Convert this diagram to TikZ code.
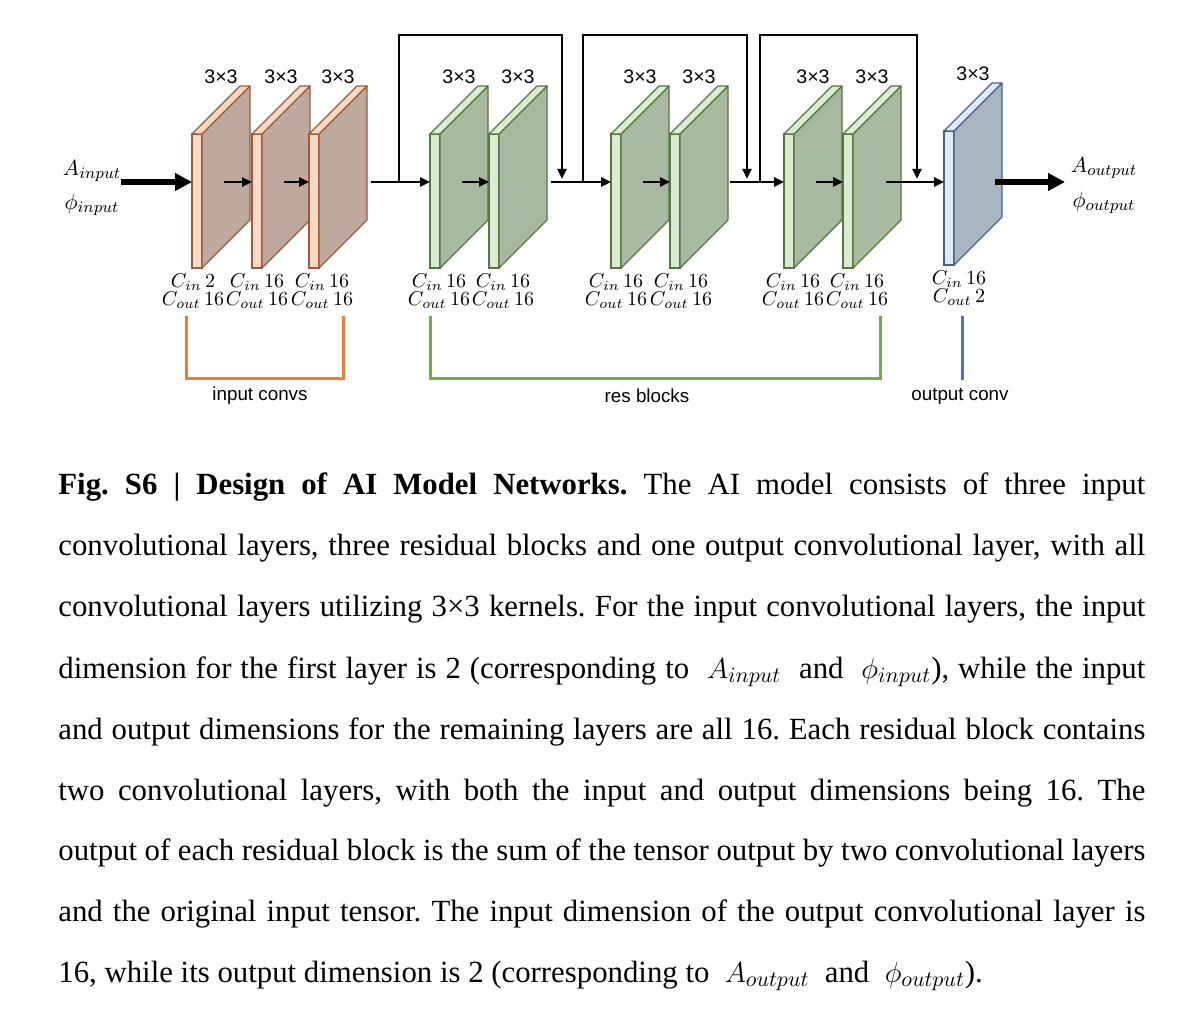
\documentclass[tikz,border=0pt]{standalone}
\usepackage{amsmath}
\usepackage{fontspec}
\setmainfont{Liberation Serif}
\setsansfont{Liberation Sans}
\usepackage{tikz}
\usetikzlibrary{calc,arrows.meta,positioning}
\definecolor{peachface}{HTML}{F9D8C3}
\definecolor{peachside}{HTML}{BFA89E}
\definecolor{peachedge}{HTML}{9E5B3B}
\definecolor{sageface}{HTML}{DCEBD3}
\definecolor{sageside}{HTML}{A9B8A1}
\definecolor{sageedge}{HTML}{527A3E}
\definecolor{skyface}{HTML}{DDEBF7}
\definecolor{skyside}{HTML}{A9B5C1}
\definecolor{skyedge}{HTML}{41618F}
\definecolor{brkorange}{HTML}{ED7D31}
\definecolor{brkgreen}{HTML}{70AD47}
\definecolor{brkblue}{HTML}{4472C4}
\frenchspacing

\begin{document}
\begin{tikzpicture}[x=0.5pt, y=-0.5pt,
    slab/.style={draw=#1edge, fill=#1face, line width=0.6pt, minimum width=5pt,
      minimum height=67pt, inner sep=0pt, outer sep=0pt, anchor=north west},
    flank/.style={draw=#1edge, fill=#1side, line width=0.6pt, line join=round},
    lid/.style={draw=#1edge, fill=#1face, line width=0.6pt, line join=round},
    flow/.style={line width=1.35pt, -{Triangle[length=5pt,width=4.6pt]}},
    bigflow/.style={line width=3pt, -{Triangle[length=8.5pt,width=8.5pt]}},
    skip/.style={line width=1.4pt, -{Triangle[length=5pt,width=4.4pt]}},
    kernel/.style={font=\sffamily\fontsize{9.8}{11}\selectfont, inner sep=0pt},
    dims/.style={font=\fontsize{10}{12}\selectfont, anchor=base, inner sep=0pt},
    sig/.style={font=\fontsize{11}{13}\selectfont, inner sep=0pt},
    grp/.style={font=\sffamily\fontsize{9.4}{11}\selectfont, inner sep=0pt},
    brk/.style={draw=#1, line width=1.5pt},
    capline/.style={font=\fontsize{15.4}{18}\selectfont, anchor=base west, inner sep=0pt}]
  \useasboundingbox (0,0) rectangle (1200,1026);
  \coordinate (lvl) at (0,182);
  \coordinate (top) at (0,35);

  % conv layers
  \foreach \nm/\xx/\yy/\kd/\ci/\co/\dx in {in1/192/134/peach/2/16/-4, in2/252/134/peach/16/16/0,
      in3/309/134/peach/16/16/8, g1/430/134/sage/16/16/4, g2/489/134/sage/16/16/9,
      g3/611/134/sage/16/16/0, g4/670/134/sage/16/16/6, g5/784/134/sage/16/16/4,
      g6/843/134/sage/16/16/9, out/944/131/sky/16/2/10} {
    \node[slab=\kd] (\nm) at (\xx,\yy) {};
    \draw[flank=\kd] (\nm.north east) -- ++(48,-48) -- ++(0,134) -- (\nm.south east) -- cycle;
    \draw[lid=\kd] (\nm.north west) -- ++(48,-48) -- ++(10,0) -- (\nm.north east) -- cycle;
    \node[kernel] (\nm-k) at ($(\nm.north)+(24,-57)$) {3×3};
    \node[dims] (\nm-ci) at ($(\nm.south)+(\dx,20)$) {$C_{in}\,\ci$};
    \node[dims] (\nm-co) at ($(\nm.south)+(\dx,38)$) {$C_{out}\,\co$};
    \coordinate (\nm-m) at ($(\nm.east |- lvl)+(22,0)$);
  }

  % signals in and out
  \node[sig] (ain) at (92,171) {$A_{input}$};
  \node[sig] (phin) at (92,205) {$\phi_{input}$};
  \node[sig] (aout) at (1104,168) {$A_{output}$};
  \node[sig] (phout) at (1104,203) {$\phi_{output}$};
  \coordinate (src) at (121,182);
  \coordinate (tail) at (995,182);
  \coordinate (snk) at (1065,182);

  % main path
  \coordinate (b0) at (371,182);
  \coordinate (b1) at (551,182);
  \coordinate (b2) at (730,182);
  \coordinate (b3) at (886,182);
  \draw[bigflow] (src) -- (in1.west |- lvl);
  \draw[flow] (in1-m) -- (in2.west |- lvl);
  \draw[flow] (in2-m) -- (in3.west |- lvl);
  \draw[flow] (b0) -- (g1.west |- lvl);
  \draw[flow] (g1-m) -- (g2.west |- lvl);
  \draw[flow] (b1) -- (g3.west |- lvl);
  \draw[flow] (g3-m) -- (g4.west |- lvl);
  \draw[flow] (b2) -- (g5.west |- lvl);
  \draw[flow] (g5-m) -- (g6.west |- lvl);
  \draw[flow] (b3) -- (out.west |- lvl);
  \draw[bigflow] (tail) -- (snk);

  % skip connections
  \coordinate (s1) at (399,182);
  \coordinate (e1) at (562,179);
  \coordinate (s2) at (583,182);
  \coordinate (e2) at (747,179);
  \coordinate (s3) at (760,182);
  \coordinate (e3) at (917,179);
  \draw[skip] (s1) -- (s1 |- top) -- (e1 |- top) -- (e1);
  \draw[skip] (s2) -- (s2 |- top) -- (e2 |- top) -- (e2);
  \draw[skip] (s3) -- (s3 |- top) -- (e3 |- top) -- (e3);

  % groups
  \draw[brk=brkorange] (186,316) |- (343,379) -- (343,316);
  \draw[brk=brkgreen] (430,316) |- (880,379) -- (880,316);
  \draw[brk=brkblue] (962,316) -- (962,380);
  \node[grp] (grp-in) at (260,396) {input convs};
  \node[grp] (grp-res) at (647,396) {res blocks};
  \node[grp] (grp-out) at (960,396) {output conv};

  % caption
  \node[capline] (cap1) at (58,495) {\makebox[543.5pt][s]{\textbf{Fig. S6 | Design of AI Model Networks.} The AI model consists of three input}};
  \node[capline] (cap2) at (58,556) {\makebox[543.5pt][s]{convolutional layers, three residual blocks and one output convolutional layer, with all}};
  \node[capline] (cap3) at (58,617) {\makebox[543.5pt][s]{convolutional layers utilizing 3×3 kernels. For the input convolutional layers, the input}};
  \node[capline] (cap4) at (58,678) {\makebox[543.5pt][s]{dimension for the first layer is 2 (corresponding to\ \ $A_{input}$\ \ and\ \ $\phi_{input}$), while the input}};
  \node[capline] (cap5) at (58,739) {\makebox[543.5pt][s]{and output dimensions for the remaining layers are all 16. Each residual block contains}};
  \node[capline] (cap6) at (58,800) {\makebox[543.5pt][s]{two convolutional layers, with both the input and output dimensions being 16. The}};
  \node[capline] (cap7) at (58,860) {\makebox[543.5pt][s]{output of each residual block is the sum of the tensor output by two convolutional layers}};
  \node[capline] (cap8) at (58,921) {\makebox[543.5pt][s]{and the original input tensor. The input dimension of the output convolutional layer is}};
  \node[capline] (cap9) at (58,982) {16, while its output dimension is 2 (corresponding to\ \ $A_{output}$\ \ and\ \ $\phi_{output}$).};
\end{tikzpicture}
\end{document}
